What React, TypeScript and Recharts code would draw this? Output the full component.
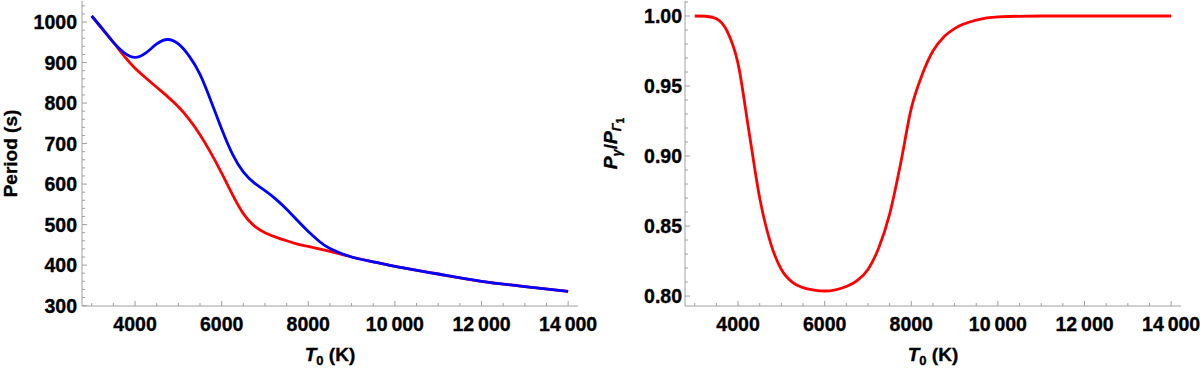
import React from 'react';
import { LineChart, Line, XAxis, YAxis, Label } from 'recharts';

// ---- Left panel data: period vs T0 ----
const periodTemps = [3000, 3250, 3500, 3750, 4000, 4250, 4500, 4750, 5000, 5250, 5500, 5750, 6000, 6250, 6500, 6750, 7000, 7250, 7500, 7750, 8000, 8250, 8500, 9000, 9500, 10000, 11000, 12000, 13000, 14000];
const redPeriod = [1015, 982, 950, 916, 886, 862, 839, 816, 791, 760, 722, 677, 627, 574, 527, 497, 480, 469, 460, 452, 446, 440, 434, 420, 408, 397, 378, 360, 347, 335];
const bluePeriod = [1015, 983, 950, 924, 913, 924, 946, 957, 946, 916, 871, 806, 736, 674, 630, 603, 584, 563, 538, 510, 483, 459, 441, 420, 408, 397, 378, 360, 347, 335];

// ---- Right panel data: ratio vs T0 ----
const ratioTemps = [3000, 3250, 3500, 3750, 4000, 4250, 4500, 4750, 5000, 5250, 5500, 5750, 6000, 6250, 6500, 6750, 7000, 7250, 7500, 7750, 8000, 8250, 8500, 8750, 9000, 9500, 10000, 11000, 12000, 13000, 14000];
const ratioValues = [1.0, 0.9998, 0.998, 0.989, 0.966, 0.918, 0.870, 0.838, 0.819, 0.810, 0.806, 0.8043, 0.8036, 0.8045, 0.8068, 0.811, 0.819, 0.8345, 0.8585, 0.894, 0.934, 0.958, 0.975, 0.985, 0.991, 0.997, 0.9993, 1.0, 1.0, 1.0, 1.0];

// ---- Ticks ----
const xMajorTicks = [4000, 6000, 8000, 10000, 12000, 14000];
const xAllTicks = [3000, 3500, 4000, 4500, 5000, 5500, 6000, 6500, 7000, 7500, 8000, 8500, 9000, 9500, 10000, 10500, 11000, 11500, 12000, 12500, 13000, 13500, 14000];
const periodMajorTicks = [300, 400, 500, 600, 700, 800, 900, 1000];
const periodAllTicks = Array.from({ length: 38 }, (_, i) => 300 + i * 20);
const ratioMajorTicks = [0.8, 0.85, 0.9, 0.95, 1.0];
const ratioAllTicks = Array.from({ length: 22 }, (_, i) => Math.round((0.8 + i * 0.01) * 100) / 100);

const leftData = periodTemps.map((t, i) => ({ T: t, red: redPeriod[i], blue: bluePeriod[i] }));
const rightData = ratioTemps.map((t, i) => ({ T: t, ratio: ratioValues[i] }));

const GRAY = '#a0a0a0';
const FONT = '"Liberation Sans", Arial, Helvetica, sans-serif';
const X_DOMAIN: [number, number] = [2775, 14228];
const TICK_FS = 19.5;
const TXT = { fontFamily: FONT, fontWeight: 'bold' as const, fill: '#000', stroke: '#000', strokeWidth: 0.35 };

const fmtX = (v: number) => (v >= 10000 ? `${Math.floor(v / 1000)}\u2009${String(v % 1000).padStart(3, '0')}` : String(v));

function makeTick(side: 'bottom' | 'top' | 'left' | 'right', majors: number[], fmt?: (v: number) => string, gap = 5) {
  return (props: any) => {
    const { x, y, payload } = props;
    const v = payload.value;
    const major = majors.some((m) => Math.abs(m - v) < 1e-9);
    const len = major ? 5 : 3;
    let line: any = null;
    let text: any = null;
    if (side === 'bottom') {
      line = <line x1={x} x2={x} y1={y} y2={y - len} stroke={GRAY} strokeWidth={1} />;
      if (major && fmt)
        text = (
          <text x={x} y={y + 25} textAnchor="middle" fontSize={TICK_FS} {...TXT}>
            {fmt(v)}
          </text>
        );
    } else if (side === 'top') {
      line = <line x1={x} x2={x} y1={y} y2={y + len} stroke={GRAY} strokeWidth={1} />;
    } else if (side === 'left') {
      line = <line x1={x} x2={x + len} y1={y} y2={y} stroke={GRAY} strokeWidth={1} />;
      if (major && fmt)
        text = (
          <text x={x - gap} y={y + 7} textAnchor="end" fontSize={TICK_FS} {...TXT}>
            {fmt(v)}
          </text>
        );
    } else {
      line = <line x1={x} x2={x - len} y1={y} y2={y} stroke={GRAY} strokeWidth={1} />;
    }
    return (
      <g>
        {line}
        {text}
      </g>
    );
  };
}

const XLabel = (props: any) => {
  const vb = props.viewBox || {};
  const cx = vb.x + vb.width / 2;
  const y = vb.y + 55;
  return (
    <text x={cx} y={y} textAnchor="middle" fontSize={19} {...TXT}>
      <tspan fontStyle="italic">T</tspan>
      <tspan fontSize={13} dy={4}>0</tspan>
      <tspan dy={-4}> (K)</tspan>
    </text>
  );
};

const PeriodLabel = (props: any) => {
  const vb = props.viewBox || {};
  const cx = 17;
  const cy = vb.y + vb.height / 2;
  return (
    <text x={cx} y={cy} transform={`rotate(-90, ${cx}, ${cy})`} textAnchor="middle" fontSize={19} {...TXT}>
      Period (s)
    </text>
  );
};

const RatioLabel = (props: any) => {
  const vb = props.viewBox || {};
  const cx = 17;
  const cy = vb.y + vb.height / 2 - 10;
  return (
    <text x={cx} y={cy} transform={`rotate(-90, ${cx}, ${cy})`} textAnchor="middle" fontSize={19} {...TXT}>
      <tspan fontStyle="italic">P</tspan>
      <tspan fontStyle="italic" fontSize={13} dy={4}>γ</tspan>
      <tspan dy={-4}>/</tspan>
      <tspan fontStyle="italic">P</tspan>
      <tspan fontStyle="italic" fontSize={13} dy={4}>Γ</tspan>
      <tspan fontSize={10} dy={3}>1</tspan>
    </text>
  );
};

export default function App() {
  return (
    <div style={{ position: 'absolute', left: 0, top: 0, width: 1200, height: 370, display: 'flex', background: '#fff' }}>
      <LineChart width={600} height={370} data={leftData} margin={{ top: 1, right: 22, bottom: 0, left: 0 }}>
        <XAxis
          xAxisId="bottom"
          dataKey="T"
          type="number"
          orientation="bottom"
          domain={X_DOMAIN}
          allowDataOverflow
          ticks={xAllTicks}
          interval={0}
          height={64}
          tickSize={0}
          tickMargin={0}
          tickLine={false}
          axisLine={{ stroke: GRAY }}
          tick={makeTick('bottom', xMajorTicks, fmtX)}
        >
          <Label content={<XLabel />} />
        </XAxis>
        <XAxis
          xAxisId="top"
          dataKey="T"
          type="number"
          orientation="top"
          domain={X_DOMAIN}
          allowDataOverflow
          ticks={xAllTicks}
          interval={0}
          height={0}
          tickSize={0}
          tickMargin={0}
          tickLine={false}
          axisLine={{ stroke: GRAY }}
          tick={makeTick('top', xMajorTicks)}
        />
        <YAxis
          yAxisId="left"
          type="number"
          orientation="left"
          domain={[299, 1052]}
          allowDataOverflow
          ticks={periodAllTicks}
          interval={0}
          width={82}
          tickSize={0}
          tickMargin={0}
          tickLine={false}
          axisLine={{ stroke: GRAY }}
          tick={makeTick('left', periodMajorTicks, (v) => String(v), 5)}
        >
          <Label content={<PeriodLabel />} />
        </YAxis>
        <YAxis
          yAxisId="right"
          type="number"
          orientation="right"
          domain={[299, 1052]}
          allowDataOverflow
          ticks={periodAllTicks}
          interval={0}
          width={0}
          tickSize={0}
          tickMargin={0}
          tickLine={false}
          axisLine={{ stroke: GRAY }}
          tick={makeTick('right', periodMajorTicks)}
        />
        <Line xAxisId="bottom" yAxisId="left" type="natural" dataKey="red" stroke="#ff0000" strokeWidth={2.8} dot={false} isAnimationActive={false} />
        <Line xAxisId="bottom" yAxisId="left" type="natural" dataKey="blue" stroke="#0000ff" strokeWidth={2.8} dot={false} isAnimationActive={false} />
      </LineChart>
      <LineChart width={600} height={370} data={rightData} margin={{ top: 1, right: 19, bottom: 0, left: 0 }}>
        <XAxis
          xAxisId="bottom"
          dataKey="T"
          type="number"
          orientation="bottom"
          domain={X_DOMAIN}
          allowDataOverflow
          ticks={xAllTicks}
          interval={0}
          height={64}
          tickSize={0}
          tickMargin={0}
          tickLine={false}
          axisLine={{ stroke: GRAY }}
          tick={makeTick('bottom', xMajorTicks, fmtX)}
        >
          <Label content={<XLabel />} />
        </XAxis>
        <XAxis
          xAxisId="top"
          dataKey="T"
          type="number"
          orientation="top"
          domain={X_DOMAIN}
          allowDataOverflow
          ticks={xAllTicks}
          interval={0}
          height={0}
          tickSize={0}
          tickMargin={0}
          tickLine={false}
          axisLine={{ stroke: GRAY }}
          tick={makeTick('top', xMajorTicks)}
        />
        <YAxis
          yAxisId="left"
          type="number"
          orientation="left"
          domain={[0.7929, 1.0107]}
          allowDataOverflow
          ticks={ratioAllTicks}
          interval={0}
          width={85}
          tickSize={0}
          tickMargin={0}
          tickLine={false}
          axisLine={{ stroke: GRAY }}
          tick={makeTick('left', ratioMajorTicks, (v) => v.toFixed(2), 3)}
        >
          <Label content={<RatioLabel />} />
        </YAxis>
        <YAxis
          yAxisId="right"
          type="number"
          orientation="right"
          domain={[0.7929, 1.0107]}
          allowDataOverflow
          ticks={ratioAllTicks}
          interval={0}
          width={0}
          tickSize={0}
          tickMargin={0}
          tickLine={false}
          axisLine={{ stroke: GRAY }}
          tick={makeTick('right', ratioMajorTicks)}
        />
        <Line xAxisId="bottom" yAxisId="left" type="monotone" dataKey="ratio" stroke="#ff0000" strokeWidth={2.8} dot={false} isAnimationActive={false} />
      </LineChart>
    </div>
  );
}
